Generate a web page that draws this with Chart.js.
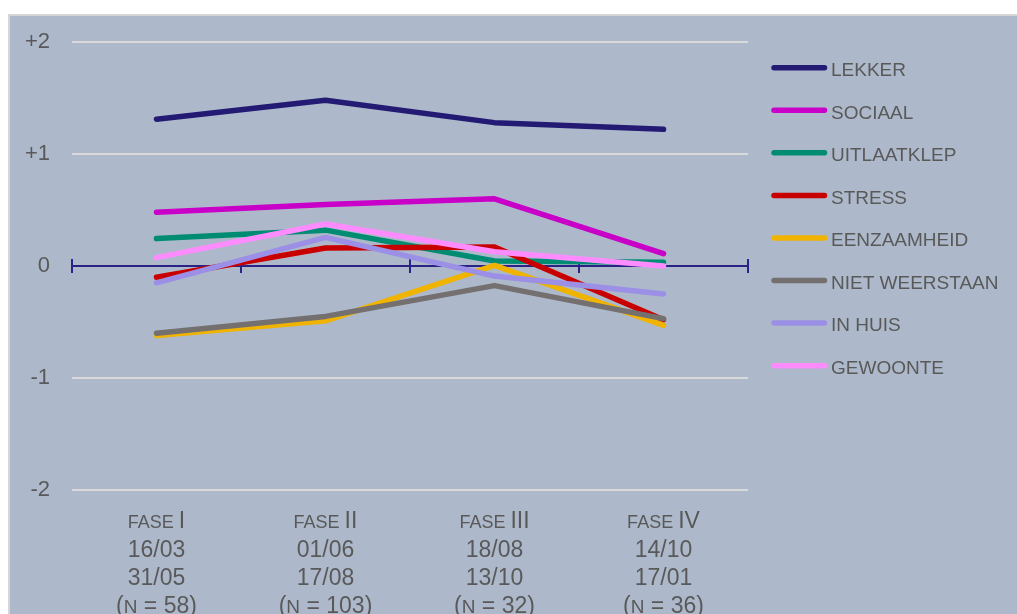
<!DOCTYPE html>
<html>
<head>
<meta charset="utf-8">
<script src="https://cdn.jsdelivr.net/npm/chart.js@4/dist/chart.umd.min.js"></script>
<style>
  html, body { margin: 0; padding: 0; background: #ffffff; }
  #c { display: block; }
</style>
</head>
<body>
<canvas id="c" width="1017" height="614"></canvas>
<script>
// ---- Data ----
const categories = ['FASE I', 'FASE II', 'FASE III', 'FASE IV'];
const phaseNumerals = ['I', 'II', 'III', 'IV'];
const dateFrom = ['16/03', '01/06', '18/08', '14/10'];
const dateTo = ['31/05', '17/08', '13/10', '17/01'];
const sampleSizes = ['58', '103', '32', '36'];

const seriesNames = ['LEKKER', 'SOCIAAL', 'UITLAATKLEP', 'STRESS', 'EENZAAMHEID', 'NIET WEERSTAAN', 'IN HUIS', 'GEWOONTE'];
const lekker        = [1.31, 1.48, 1.28, 1.22];
const sociaal       = [0.48, 0.55, 0.60, 0.11];
const uitlaatklep   = [0.245, 0.32, 0.045, 0.033];
const stress        = [-0.10, 0.16, 0.17, -0.48];
const eenzaamheid   = [-0.62, -0.49, 0.005, -0.53];
const nietWeerstaan = [-0.60, -0.45, -0.175, -0.47];
const inHuis        = [-0.15, 0.255, -0.09, -0.25];
const gewoonte      = [0.075, 0.375, 0.128, 0.0];
const seriesValues = [lekker, sociaal, uitlaatklep, stress, eenzaamheid, nietWeerstaan, inHuis, gewoonte];

const yTickValues = [-2, -1, 0, 1, 2];
const yTickLabels = { '-2': '-2', '-1': '-1', '0': '0', '1': '+1', '2': '+2' };

// ---- Styles ----
const seriesColors = ['#231a73', '#c800c8', '#008c72', '#c80000', '#efb300', '#747070', '#9b8fe6', '#ff8cff'];
const textColor = '#595959';
const bgColor = '#adb9ca';
const axisColor = '#2b2285';
const FONT = '"Liberation Sans", Arial, sans-serif';

const datasets = seriesNames.map((name, i) => ({
  label: name,
  data: seriesValues[i],
  borderColor: seriesColors[i],
  backgroundColor: seriesColors[i],
  borderWidth: 5.5,
  pointRadius: 0,
  pointHoverRadius: 0,
  tension: 0,
  fill: false,
  borderCapStyle: 'round',
  borderJoinStyle: 'round',
  order: seriesNames.length - i
}));

const backgroundPlugin = {
  id: 'bgPanel',
  beforeDraw(chart) {
    const ctx = chart.ctx;
    ctx.save();
    ctx.fillStyle = '#ffffff';
    ctx.fillRect(0, 0, chart.width, chart.height);
    ctx.fillStyle = bgColor;
    ctx.fillRect(8, 14, chart.width - 8, chart.height - 14);
    ctx.strokeStyle = '#d6d6d6';
    ctx.lineWidth = 2;
    ctx.beginPath();
    ctx.moveTo(9, chart.height);
    ctx.lineTo(9, 15);
    ctx.lineTo(chart.width, 15);
    ctx.stroke();
    ctx.restore();
  }
};

const zeroAxisPlugin = {
  id: 'zeroAxis',
  beforeDatasetsDraw(chart) {
    const ctx = chart.ctx;
    const x = chart.scales.x, y = chart.scales.y;
    const y0 = Math.round(y.getPixelForValue(0));
    const left = chart.chartArea.left, right = chart.chartArea.right;
    ctx.save();
    ctx.strokeStyle = axisColor;
    ctx.lineWidth = 2;
    ctx.beginPath();
    ctx.moveTo(left, y0);
    ctx.lineTo(right, y0);
    for (let i = 0; i <= categories.length; i++) {
      const px = Math.round(x.getPixelForValue(i - 0.5));
      ctx.moveTo(px, y0 - 7);
      ctx.lineTo(px, y0 + 7);
    }
    ctx.stroke();
    ctx.restore();
  }
};

function drawRuns(ctx, runs, cx, baseline) {
  let total = 0;
  runs.forEach(r => { ctx.font = r.size + 'px ' + FONT; r.w = ctx.measureText(r.text).width; total += r.w; });
  let xx = cx - total / 2;
  runs.forEach(r => {
    ctx.font = r.size + 'px ' + FONT;
    ctx.fillText(r.text, xx, baseline);
    xx += r.w;
  });
}

const xLabelsPlugin = {
  id: 'xLabels',
  afterDraw(chart) {
    const ctx = chart.ctx;
    const x = chart.scales.x;
    ctx.save();
    ctx.fillStyle = textColor;
    ctx.textAlign = 'left';
    ctx.textBaseline = 'alphabetic';
    categories.forEach((c, i) => {
      const cx = x.getPixelForValue(i);
      drawRuns(ctx, [{ text: 'FASE ', size: 18 }, { text: phaseNumerals[i], size: 23 }], cx, 528);
      drawRuns(ctx, [{ text: dateFrom[i], size: 23 }], cx, 556.5);
      drawRuns(ctx, [{ text: dateTo[i], size: 23 }], cx, 585);
      drawRuns(ctx, [{ text: '(', size: 23 }, { text: 'N', size: 19 }, { text: ' = ' + sampleSizes[i] + ')', size: 23 }], cx, 613);
    });
    ctx.restore();
  }
};

const legendPlugin = {
  id: 'customLegend',
  afterDraw(chart) {
    const ctx = chart.ctx;
    ctx.save();
    ctx.font = '19px ' + FONT;
    ctx.textAlign = 'left';
    ctx.textBaseline = 'alphabetic';
    chart.data.datasets.forEach((ds, i) => {
      const ly = 67.7 + i * 42.57;
      ctx.strokeStyle = ds.borderColor;
      ctx.lineWidth = 5.5;
      ctx.lineCap = 'round';
      ctx.beginPath();
      ctx.moveTo(774, ly);
      ctx.lineTo(824.5, ly);
      ctx.stroke();
      ctx.fillStyle = textColor;
      ctx.fillText(ds.label, 831, ly + 8.3);
    });
    ctx.restore();
  }
};

new Chart(document.getElementById('c'), {
  type: 'line',
  data: { labels: categories, datasets },
  options: {
    responsive: false,
    animation: false,
    devicePixelRatio: 1,
    layout: { padding: { left: 0, right: 269, top: 42, bottom: 124 } },
    plugins: {
      legend: { display: false },
      tooltip: { enabled: false },
      title: { display: false }
    },
    scales: {
      x: {
        type: 'category',
        display: false,
        offset: true
      },
      y: {
        min: -2,
        max: 2,
        afterBuildTicks(scale) {
          scale.ticks = yTickValues.map(v => ({ value: v }));
        },
        afterFit(scale) {
          scale.width = 72;
          scale.paddingTop = 0;
          scale.paddingBottom = 0;
        },
        border: { display: false },
        grid: {
          color: (c) => (c.tick && c.tick.value === 0) ? 'rgba(0,0,0,0)' : '#d9d9d9',
          lineWidth: 2,
          drawTicks: false
        },
        ticks: {
          padding: 22,
          color: textColor,
          font: { family: FONT, size: 22 },
          callback: (v) => yTickLabels[String(v)]
        }
      }
    }
  },
  plugins: [backgroundPlugin, zeroAxisPlugin, xLabelsPlugin, legendPlugin]
});
</script>
</body>
</html>
